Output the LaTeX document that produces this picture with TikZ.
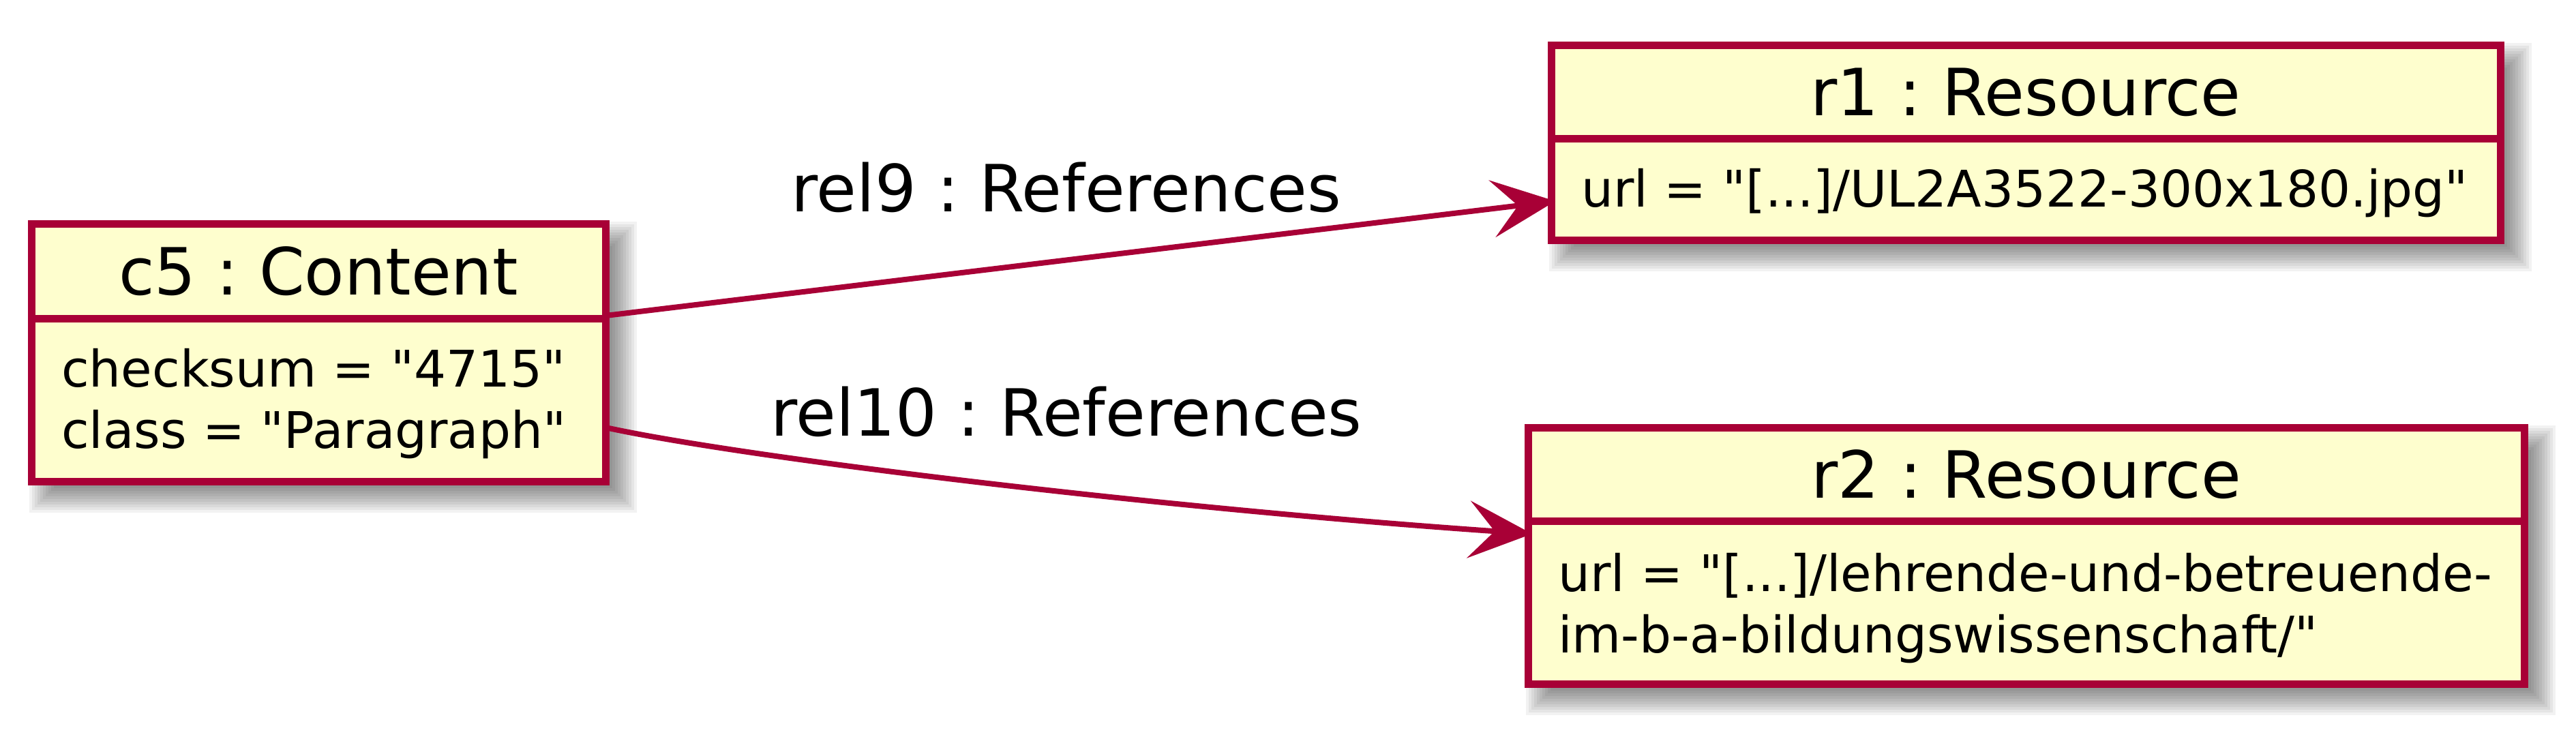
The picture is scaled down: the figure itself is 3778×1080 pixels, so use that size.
\documentclass[tikz,border=0pt]{standalone}
\usepackage{fontspec}
\setmainfont{DejaVu Sans}[Ligatures=TeXOff]
\frenchspacing
\usetikzlibrary{positioning,arrows.meta,backgrounds}
\definecolor{umlred}{HTML}{A80036}
\definecolor{umlfill}{HTML}{FEFECE}
\tikzset{>={Stealth[length=93pt,width=84pt,inset=38pt]}}

\begin{document}
\begin{tikzpicture}[x=1pt,y=-1pt,
        objhead/.style={draw=umlred,fill=umlfill,line width=11pt,inner sep=0pt,outer sep=0pt,
            font=\fontsize{95.5pt}{115pt}\selectfont,text height=69pt,text depth=0pt},
        objfields/.style={draw=umlred,fill=umlfill,line width=11pt,inner sep=0pt,outer sep=0pt},
        field/.style={anchor=north west,inner sep=0pt,align=left,
            font=\fontsize{74pt}{90pt}\selectfont},
        rellabel/.style={anchor=base,inner sep=0pt,font=\fontsize{95.5pt}{115pt}\selectfont},
        ref/.style={->,color=umlred,line width=8pt}]
    \useasboundingbox (0,0) rectangle (3778,1080);
    % objects
    \node[objhead,minimum width=842pt,minimum height=139pt] (c5) at (467,397.5) {c5 : Content};
    \node[objfields,minimum width=842pt,minimum height=239pt,below=0pt of c5] (c5-fields) {};
    \node[field] (c5-attrs) at ([shift={(44,37)}]c5-fields.north west)
        {\strut checksum = "4715"\\\strut class = "Paragraph"};

    \node[objhead,minimum width=1392pt,minimum height=137pt] (r1) at (2971,134.5) {r1 : Resource};
    \node[objfields,minimum width=1392pt,minimum height=149pt,below=0pt of r1] (r1-fields) {};
    \node[field] (r1-attrs) at ([shift={(44,37)}]r1-fields.north west)
        {\strut url = "[...]/UL2A3522-300x180.jpg"};

    \node[objhead,minimum width=1461pt,minimum height=137pt] (r2) at (2971.5,695.5) {r2 : Resource};
    \node[objfields,minimum width=1461pt,minimum height=239pt,below=0pt of r2] (r2-fields) {};
    \node[field] (r2-attrs) at ([shift={(44,40)}]r2-fields.north west)
        {\strut url = "[...]/lehrende-und-betreuende-\\\strut im-b-a-bildungswissenschaft/"};

    % links
    \draw[ref] ([yshift=4pt]c5.south east) -- ([shift={(6pt,-17.5pt)}]r1-fields.west);
    \draw[ref] ([yshift=-40.5pt]c5-fields.east) .. controls +(207,45) and +(-547,-38)
        .. ([shift={(6pt,-19pt)}]r2-fields.north west);
    \node[rellabel] (rel9) at (1564,310) {rel9 : References};
    \node[rellabel] (rel10) at (1564,639) {rel10 : References};

    % shadows
    \begin{scope}[on background layer]
        \fill[white] (0,0) rectangle (3778,1080);
        \foreach \o in {c5,r1,r2}
            \foreach \e in {0,4,...,36}
                \fill[black,opacity=0.05] ([shift={({32.5-\e},{32.5-\e})}]\o.north west)
                    rectangle ([shift={({9.5+\e},{9.5+\e})}]\o-fields.south east);
    \end{scope}
\end{tikzpicture}
\end{document}
